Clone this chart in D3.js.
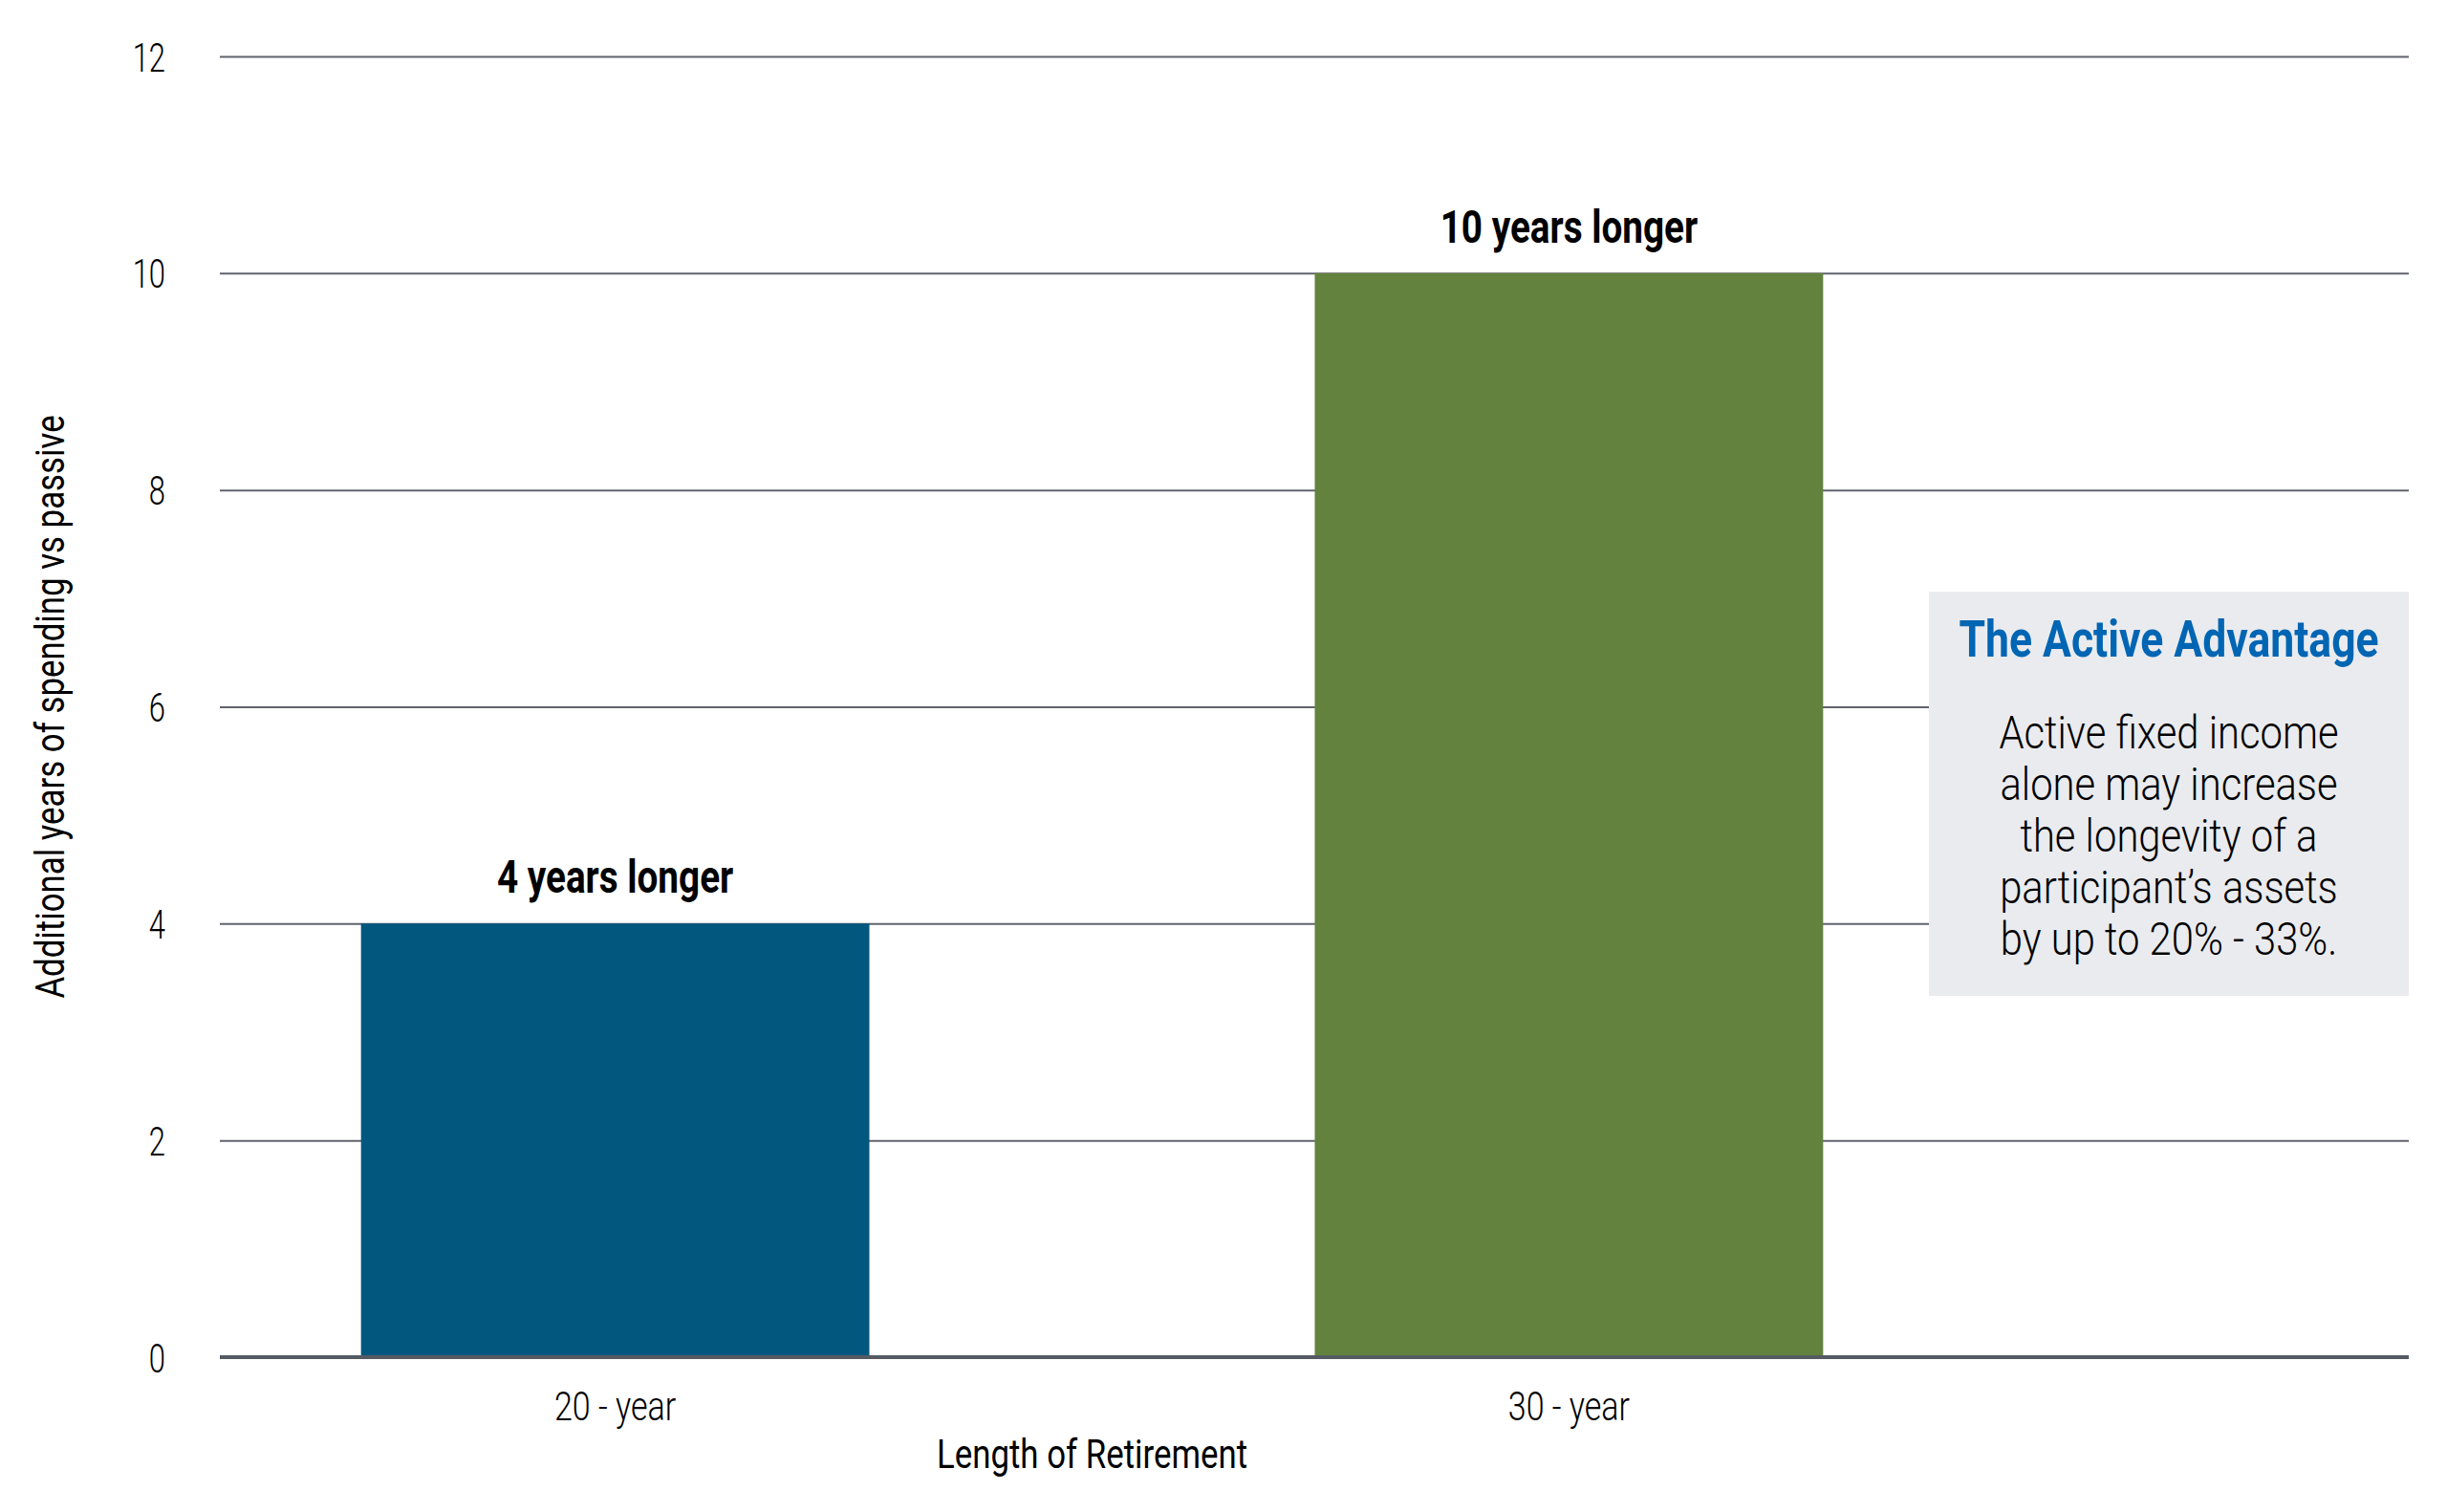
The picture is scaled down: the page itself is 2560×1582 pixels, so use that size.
<!DOCTYPE html>
<html>
<head>
<meta charset="utf-8">
<script src="https://cdn.jsdelivr.net/npm/d3@7"></script>
<style>
  body { margin: 0; background: #fff; }
  svg { display: block; font-family: Roboto, "Noto Sans", sans-serif; }
  .light { font-family: "Roboto Light", Roboto, "Noto Sans", sans-serif; font-weight: 300; }
</style>
</head>
<body>
<div id="chart"></div>
<script>

// data
const categories = ["20 - year", "30 - year"];
const values = [4, 10];
const barLabels = ["4 years longer", "10 years longer"];
const barColors = ["#02577f", "#63823e"];
const yTicks = [0, 2, 4, 6, 8, 10, 12];
const calloutTitle = "The Active Advantage";
const calloutLines = [
  "Active fixed income",
  "alone may increase",
  "the longevity of a",
  "participant\u2019s assets",
  "by up to 20% - 33%."
];

const width = 2560, height = 1582;
const plot = {left: 230, right: 2520, top: 59, bottom: 1420, barsRight: 2055};
const squeeze = 0.81;   // the source uses a condensed face

const x = d3.scaleBand()
  .domain(categories)
  .range([plot.left, plot.barsRight])
  .paddingInner(0.467)
  .paddingOuter(0.148);

const y = d3.scaleLinear()
  .domain([0, 12])
  .range([plot.bottom, plot.top]);

const svg = d3.select("#chart").append("svg")
  .attr("width", width)
  .attr("height", height)
  .attr("viewBox", `0 0 ${width} ${height}`);

function place(tx, ty, k) {
  return `translate(${tx},${ty}) scale(${k || squeeze},1)`;
}

// gridlines + tick labels
const yAxis = d3.axisLeft(y)
  .tickValues(yTicks)
  .tickSize(-(plot.right - plot.left))
  .tickFormat(d3.format("d"));

const gy = svg.append("g")
  .attr("transform", "translate(" + plot.left + ",0)")
  .call(yAxis);

gy.select(".domain").remove();
gy.selectAll(".tick line")
  .attr("stroke", "#60636d")
  .attr("stroke-width", 2);
gy.selectAll(".tick text")
  .attr("class", "light")
  .attr("x", null)
  .attr("dy", null)
  .attr("transform", place(-57, 15, 0.72))
  .attr("text-anchor", "end")
  .attr("fill", "#000")
  .style("font-size", "43px");

// bars
svg.selectAll(".bar")
  .data(values)
  .enter().append("rect")
  .attr("class", "bar")
  .attr("x", (d, i) => x(categories[i]))
  .attr("y", d => y(d))
  .attr("width", x.bandwidth())
  .attr("height", d => y(0) - y(d))
  .attr("fill", (d, i) => barColors[i]);

svg.selectAll(".bar-label")
  .data(values)
  .enter().append("text")
  .attr("class", "bar-label")
  .attr("transform", (d, i) => place(x(categories[i]) + x.bandwidth() / 2, y(d) - 32, 0.79))
  .attr("text-anchor", "middle")
  .style("font-size", "49px")
  .style("font-weight", 700)
  .text((d, i) => barLabels[i]);

// zero line
svg.append("line")
  .attr("x1", plot.left)
  .attr("x2", plot.right)
  .attr("y1", y(0))
  .attr("y2", y(0))
  .attr("stroke", "#555a63")
  .attr("stroke-width", 4);

// x axis labels
const xAxis = d3.axisBottom(x).tickSize(0);
const gx = svg.append("g")
  .attr("transform", "translate(0," + y(0) + ")")
  .call(xAxis);
gx.select(".domain").remove();
gx.selectAll(".tick text")
  .attr("class", "light")
  .attr("y", null)
  .attr("dy", null)
  .attr("transform", place(0, 66, 0.81))
  .attr("fill", "#000")
  .style("font-size", "42px");

// axis titles
svg.append("text")
  .attr("transform", place((plot.left + plot.barsRight) / 2, 1536))
  .attr("text-anchor", "middle")
  .style("font-size", "43px")
  .text("Length of Retirement");

svg.append("text")
  .attr("transform", `translate(67,${(plot.top + plot.bottom) / 2}) rotate(-90) scale(${squeeze},1)`)
  .attr("text-anchor", "middle")
  .style("font-size", "43px")
  .text("Additional years of spending vs passive");

// callout box
const box = {x: 2018, y: 619, w: 502, h: 423};
const cx = box.x + box.w / 2;

svg.append("rect")
  .attr("x", box.x)
  .attr("y", box.y)
  .attr("width", box.w)
  .attr("height", box.h)
  .attr("fill", "#eaebef");

svg.append("text")
  .attr("transform", place(cx, 687, 0.84))
  .attr("text-anchor", "middle")
  .attr("fill", "#0065b3")
  .style("font-size", "53px")
  .style("font-weight", 700)
  .text(calloutTitle);

svg.selectAll(".callout-line")
  .data(calloutLines)
  .enter().append("text")
  .attr("class", "callout-line light")
  .attr("transform", (d, i) => place(cx, 783 + i * 54, 0.87))
  .attr("text-anchor", "middle")
  .style("font-size", "48px")
  .text(d => d);

</script>
</body>
</html>
